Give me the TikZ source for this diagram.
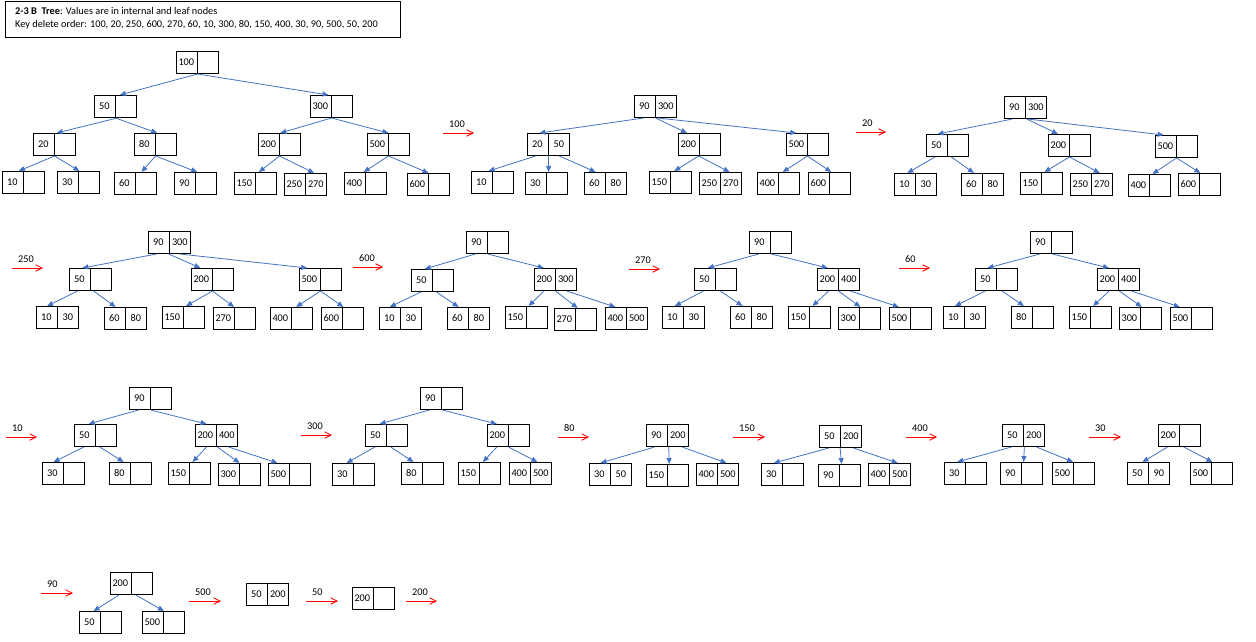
\documentclass[tikz,border=0pt]{standalone}
\usepackage{fontspec}
\setmainfont{Carlito}
\usetikzlibrary{shapes.multipart,arrows.meta,calc}
\definecolor{edgeblue}{HTML}{4472C4}
% one cell of a key node: fixed width, fixed height
\newcommand\kcell[1]{\makebox[20.5pt]{\rule[-7.6pt]{0pt}{22pt}#1\hspace{0.8pt}}}
% key node: name, x, y (top left), left key, right key
\newcommand\kn[5]{\node[keynode] (#1) at (#2,#3) {\kcell{#4}\nodepart{two}\kcell{#5}};}
% tree edge: parent, fraction along its bottom, child, fraction along its top
\newcommand\kedge[4]{\draw[treeedge] ($(#1.south west)!#2!(#1.south east)$) -- ($(#3.north west)!#4!(#3.north east)$);}
% deletion step arrow: name, x start, x end, y, deleted key
\newcommand\delstep[5]{%
  \coordinate (#1s) at (#2,#4);
  \coordinate (#1e) at (#3,#4);
  \draw[delarrow] (#1s) -- (#1e);
  \node[dellabel] (#1k) at ($(#1s)+(6,-6)$) {#5};}
\tikzset{
  keynode/.style={rectangle split, rectangle split horizontal, rectangle split parts=2,
    draw, line width=1pt, inner xsep=0pt, inner ysep=0pt, anchor=north west,
    font=\fontsize{10.3}{12}\selectfont},
  treeedge/.style={draw=edgeblue, line width=0.8pt, -{Triangle[length=6pt,width=5pt]}},
  delarrow/.style={draw=red, line width=0.8pt, -{Straight Barb[length=6.5pt,width=6.5pt]}},
  dellabel/.style={anchor=base west, inner sep=0pt, font=\fontsize{10.3}{12}\selectfont},
}
\begin{document}
\begin{tikzpicture}[x=1pt,y=-1pt]
\useasboundingbox[fill=white] (0,0) rectangle (1256,642);

% heading
\node[draw, line width=0.9pt, anchor=north west, minimum width=395pt, minimum height=36pt, inner sep=0pt] (titlebox) at (5,1) {};
\node[anchor=west, align=left, inner sep=0pt, font=\fontsize{10.3}{12.8}\selectfont] (title) at (15,18.5)
  {\textbf{2-3 B\ \ Tree}: Values are in internal and leaf nodes\\Key delete order: 100, 20, 250, 600, 270, 60, 10, 300, 80, 150, 400, 30, 90, 500, 50, 200};

% initial tree
\kn{a0}{176}{51}{100}{}
\kn{a1}{94}{95}{50}{}
\kn{a2}{310}{95}{300}{}
\kn{a3}{33}{133}{20}{}
\kn{a4}{134}{133}{80}{}
\kn{a5}{258}{133}{200}{}
\kn{a6}{367}{133}{500}{}
\kn{a7}{2}{171}{10}{}
\kn{a8}{57}{171}{30}{}
\kn{a9}{114}{172}{60}{}
\kn{a10}{174}{172}{90}{}
\kn{a11}{234}{172}{150}{}
\kn{a12}{284}{173}{250}{270}
\kn{a13}{344}{172}{400}{}
\kn{a14}{407}{173}{600}{}
\kedge{a0}{.5}{a1}{.6}
\kedge{a0}{.5}{a2}{.43}
\kedge{a1}{.54}{a3}{.55}
\kedge{a1}{.5}{a4}{.54}
\kedge{a2}{.5}{a5}{.52}
\kedge{a2}{.5}{a6}{.5}
\kedge{a3}{.5}{a7}{.39}
\kedge{a3}{.5}{a8}{.52}
\kedge{a4}{.5}{a9}{.64}
\kedge{a4}{.5}{a10}{.54}
\kedge{a5}{.5}{a11}{.58}
\kedge{a5}{.5}{a12}{.7}
\kedge{a6}{.5}{a13}{.46}
\kedge{a6}{.5}{a14}{.5}

% delete 100
\delstep{s1}{443}{474}{133}{100}
\kn{b0}{634}{95}{90}{300}
\kn{b1}{527}{133}{20}{50}
\kn{b2}{678}{133}{200}{}
\kn{b3}{786}{133}{500}{}
\kn{b4}{471}{171}{10}{}
\kn{b5}{525}{172}{30}{}
\kn{b6}{584}{172}{60}{80}
\kn{b7}{649}{171}{150}{}
\kn{b8}{699}{172}{250}{270}
\kn{b9}{757}{172}{400}{}
\kn{b10}{808}{172}{600}{}
\kedge{b0}{.22}{b1}{.29}
\kedge{b0}{.5}{b2}{.21}
\kedge{b0}{.55}{b3}{.24}
\kedge{b1}{.2}{b4}{.41}
\kedge{b1}{.5}{b5}{.55}
\kedge{b1}{.75}{b6}{.27}
\kedge{b2}{.48}{b7}{.59}
\kedge{b2}{.48}{b8}{.71}
\kedge{b3}{.5}{b9}{.6}
\kedge{b3}{.5}{b10}{.54}

% delete 20
\delstep{s2}{856}{886}{132}{20}
\kn{c0}{1004}{96}{90}{300}
\kn{c1}{926}{134}{50}{}
\kn{c2}{1048}{134}{200}{}
\kn{c3}{1155}{135}{500}{}
\kn{c4}{894}{173}{10}{30}
\kn{c5}{961}{173}{60}{80}
\kn{c6}{1020}{172}{150}{}
\kn{c7}{1070}{173}{250}{270}
\kn{c8}{1128}{174}{400}{}
\kn{c9}{1178}{173}{600}{}
\kedge{c0}{.2}{c1}{.27}
\kedge{c0}{.53}{c2}{.23}
\kedge{c0}{.55}{c3}{.2}
\kedge{c1}{.21}{c4}{.31}
\kedge{c1}{.59}{c5}{.3}
\kedge{c2}{.5}{c6}{.57}
\kedge{c2}{.5}{c7}{.69}
\kedge{c3}{.5}{c8}{.57}
\kedge{c3}{.5}{c9}{.52}

% delete 250
\delstep{s3}{12}{43}{268}{250}
\kn{d0}{148}{231}{90}{300}
\kn{d1}{69}{268}{50}{}
\kn{d2}{191}{268}{200}{}
\kn{d3}{299}{268}{500}{}
\kn{d4}{36}{306}{10}{30}
\kn{d5}{104}{307}{60}{80}
\kn{d6}{162}{306}{150}{}
\kn{d7}{213}{307}{270}{}
\kn{d8}{270}{307}{400}{}
\kn{d9}{321}{307}{600}{}
\kedge{d0}{.2}{d1}{.31}
\kedge{d0}{.48}{d2}{.22}
\kedge{d0}{.74}{d3}{.19}
\kedge{d1}{.2}{d4}{.26}
\kedge{d1}{.57}{d5}{.27}
\kedge{d2}{.5}{d6}{.56}
\kedge{d2}{.5}{d7}{.49}
\kedge{d3}{.5}{d8}{.61}
\kedge{d3}{.5}{d9}{.52}

% delete 600
\delstep{s4}{353}{383}{267}{600}
\kn{e0}{466}{231}{90}{}
\kn{e1}{411}{269}{50}{}
\kn{e2}{534}{268}{200}{300}
\kn{e3}{379}{307}{10}{30}
\kn{e4}{447}{307}{60}{80}
\kn{e5}{505}{306}{150}{}
\kn{e6}{554}{308}{270}{}
\kn{e7}{605}{307}{400}{500}
\kedge{e0}{.22}{e1}{.32}
\kedge{e0}{.5}{e2}{.23}
\kedge{e1}{.23}{e3}{.25}
\kedge{e1}{.59}{e4}{.27}
\kedge{e2}{.23}{e5}{.55}
\kedge{e2}{.5}{e6}{.55}
\kedge{e2}{.76}{e7}{.24}

% delete 270
\delstep{s5}{629}{660}{269}{270}
\kn{f0}{749}{231}{90}{}
\kn{f1}{694}{268}{50}{}
\kn{f2}{817}{268}{200}{400}
\kn{f3}{662}{306}{10}{30}
\kn{f4}{730}{306}{60}{80}
\kn{f5}{788}{306}{150}{}
\kn{f6}{838}{307}{300}{}
\kn{f7}{889}{307}{500}{}
\kedge{f0}{.23}{f1}{.32}
\kedge{f0}{.52}{f2}{.25}
\kedge{f1}{.22}{f3}{.3}
\kedge{f1}{.61}{f4}{.29}
\kedge{f2}{.27}{f5}{.57}
\kedge{f2}{.5}{f6}{.52}
\kedge{f2}{.77}{f7}{.23}

% delete 60
\delstep{s6}{899}{930}{268}{60}
\kn{g0}{1030}{231}{90}{}
\kn{g1}{975}{268}{50}{}
\kn{g2}{1097}{268}{200}{400}
\kn{g3}{943}{306}{10}{30}
\kn{g4}{1011}{306}{80}{}
\kn{g5}{1069}{306}{150}{}
\kn{g6}{1119}{307}{300}{}
\kn{g7}{1170}{307}{500}{}
\kedge{g0}{.23}{g1}{.29}
\kedge{g0}{.52}{g2}{.28}
\kedge{g1}{.24}{g3}{.28}
\kedge{g1}{.63}{g4}{.3}
\kedge{g2}{.28}{g5}{.56}
\kedge{g2}{.52}{g6}{.53}
\kedge{g2}{.8}{g7}{.23}

% delete 10
\delstep{s7}{6}{37}{437}{10}
\kn{h0}{129}{387}{90}{}
\kn{h1}{74}{424}{50}{}
\kn{h2}{195}{424}{200}{400}
\kn{h3}{42}{462}{30}{}
\kn{h4}{109}{462}{80}{}
\kn{h5}{168}{462}{150}{}
\kn{h6}{218}{463}{300}{}
\kn{h7}{268}{463}{500}{}
\kedge{h0}{.22}{h1}{.34}
\kedge{h0}{.5}{h2}{.27}
\kedge{h1}{.23}{h3}{.27}
\kedge{h1}{.6}{h4}{.34}
\kedge{h2}{.27}{h5}{.57}
\kedge{h2}{.52}{h6}{.5}
\kedge{h2}{.78}{h7}{.22}

% delete 300
\delstep{s8}{301}{332}{435}{300}
\kn{i0}{420}{387}{90}{}
\kn{i1}{365}{424}{50}{}
\kn{i2}{487}{424}{200}{}
\kn{i3}{332}{463}{30}{}
\kn{i4}{401}{462}{80}{}
\kn{i5}{458}{462}{150}{}
\kn{i6}{509}{462}{400}{500}
\kedge{i0}{.22}{i1}{.34}
\kedge{i0}{.52}{i2}{.23}
\kedge{i1}{.23}{i3}{.34}
\kedge{i1}{.6}{i4}{.29}
\kedge{i2}{.23}{i5}{.58}
\kedge{i2}{.5}{i6}{.66}

% delete 80
\delstep{s9}{558}{589}{437}{80}
\kn{j0}{646}{424}{90}{200}
\kn{j1}{589}{463}{30}{50}
\kn{j2}{646}{464}{150}{}
\kn{j3}{696}{463}{400}{500}
\kedge{j0}{.2}{j1}{.27}
\kedge{j0}{.53}{j2}{.54}
\kedge{j0}{.84}{j3}{.71}

% delete 150
\delstep{s10}{733}{765}{437}{150}
\kn{k0}{819}{425}{50}{200}
\kn{k1}{761}{463}{30}{}
\kn{k2}{818}{464}{90}{}
\kn{k3}{868}{463}{400}{500}
\kedge{k0}{.23}{k1}{.3}
\kedge{k0}{.49}{k2}{.55}
\kedge{k0}{.8}{k3}{.69}

% delete 400
\delstep{s11}{906}{937}{437}{400}
\kn{l0}{1002}{424}{50}{200}
\kn{l1}{944}{462}{30}{}
\kn{l2}{1000}{462}{90}{}
\kn{l3}{1052}{462}{500}{}
\kedge{l0}{.22}{l1}{.31}
\kedge{l0}{.52}{l2}{.55}
\kedge{l0}{.8}{l3}{.49}

% delete 30
\delstep{s12}{1089}{1121}{437}{30}
\kn{m0}{1158}{424}{200}{}
\kn{m1}{1127}{462}{50}{90}
\kn{m2}{1190}{462}{500}{}
\kedge{m0}{.22}{m1}{.36}
\kedge{m0}{.6}{m2}{.52}

% delete 90
\delstep{s13}{41}{73}{593}{90}
\kn{n0}{110}{572}{200}{}
\kn{n1}{79}{611}{50}{}
\kn{n2}{142}{611}{500}{}
\kedge{n0}{.21}{n1}{.34}
\kedge{n0}{.6}{n2}{.51}

% delete 500, 50, 200
\delstep{s14}{189}{221}{601}{500}
\kn{o0}{246}{583}{50}{200}
\delstep{s15}{306}{338}{601}{50}
\kn{p0}{352}{587}{200}{}
\delstep{s16}{406}{437}{601}{200}
\end{tikzpicture}
\end{document}
